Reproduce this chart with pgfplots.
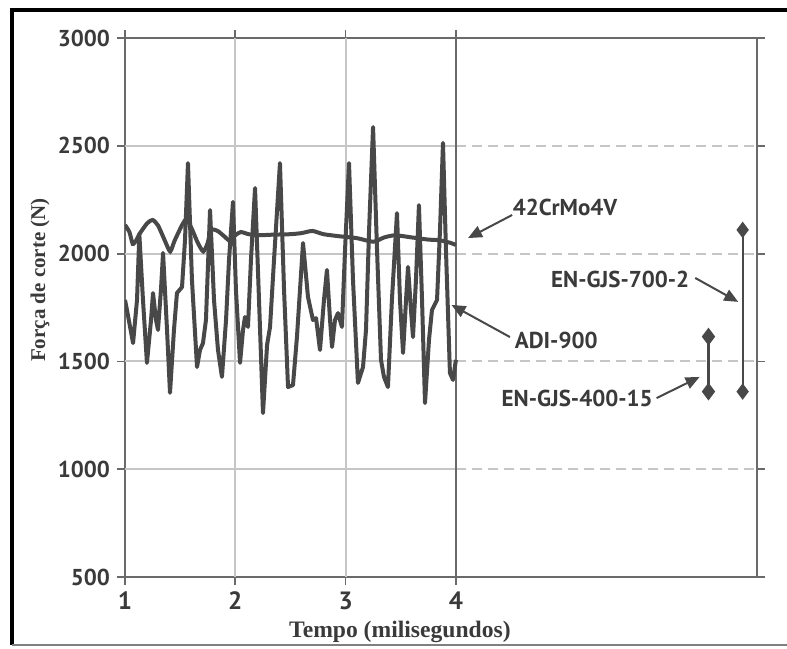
\documentclass[border=0pt]{standalone}
\usepackage{fontspec}
\setmainfont{PT Sans}
\newfontfamily\timesb{Liberation Serif}
\usepackage{pgfplots}
\pgfplotsset{compat=1.18}
\usetikzlibrary{arrows.meta}

\definecolor{linegray}{HTML}{484848}
\definecolor{gridgray}{HTML}{C6C6C6}
\definecolor{axgray}{HTML}{6A6A6A}
\definecolor{txtgray}{HTML}{3A3A3A}

\begin{document}
\begin{tikzpicture}
\begin{axis}[
  scale only axis, width=316pt, height=269.5pt,
  xmin=1, xmax=6.73, ymin=500, ymax=3000,
  xtick={1,2,3,4}, ytick={500,1000,...,3000},
  axis line style={draw=axgray, line width=1.1pt},
  tick style={draw=axgray, line width=0.9pt},
  tick align=outside, major tick length=4pt,
  /pgf/number format/assume math mode=true,
  /pgf/number format/1000 sep={},
  yticklabel style={font=\bfseries\fontsize{11.5}{13}\selectfont, text=txtgray},
  xticklabel style={font=\bfseries\fontsize{12.5}{14}\selectfont, text=txtgray},
  xlabel={Tempo (milisegundos)},
  xlabel style={font=\timesb\bfseries\fontsize{11.8}{13}\selectfont, text=txtgray,
    at={(rel axis cs:0.435,-0.102)}, anchor=center},
  ylabel={Força de corte (N)},
  ylabel style={font=\timesb\bfseries\fontsize{10.5}{12}\selectfont, text=txtgray,
    at={(rel axis cs:-0.1345,0.551)}, anchor=center},
]
% grid: solid up to 4 ms, dashed beyond
\pgfplotsinvokeforeach{1000,1500,2000,2500}{
  \addplot[gridgray, line width=1pt, forget plot] coordinates {(1,#1) (4,#1)};
  \addplot[gridgray, line width=1pt, dash pattern=on 5pt off 3pt, forget plot] coordinates {(4,#1) (6.7,#1)};
}
\addplot[gridgray, line width=1pt] coordinates {(2,500) (2,3000)};
\addplot[gridgray, line width=1pt] coordinates {(3,500) (3,3000)};
\addplot[axgray, line width=1.1pt] coordinates {(4,500) (4,3000)};

% ADI-900
\addplot[linegray, line width=2pt, line join=round] coordinates {
(1.000,1785) (1.018,1738) (1.073,1585) (1.109,1785) (1.130,2090) (1.163,1785)
(1.199,1493) (1.236,1692) (1.254,1817) (1.281,1692) (1.299,1646) (1.326,1831)
(1.345,2003) (1.381,1646) (1.408,1354) (1.444,1646) (1.471,1817) (1.517,1845)
(1.544,2063) (1.571,2420) (1.607,1878) (1.653,1474) (1.680,1553) (1.707,1585)
(1.734,1692) (1.771,2202) (1.807,1785) (1.843,1553) (1.879,1428) (1.916,1692)
(1.943,1970) (1.979,2240) (2.006,1831) (2.043,1493) (2.070,1646) (2.088,1706)
(2.115,1660) (2.142,1970) (2.179,2304) (2.215,1785) (2.251,1260) (2.288,1576)
(2.315,1660) (2.351,1970) (2.405,2420) (2.442,1831) (2.478,1381) (2.523,1390)
(2.559,1613) (2.614,2049) (2.659,1799) (2.704,1692) (2.732,1701) (2.768,1553)
(2.804,1785) (2.831,1924) (2.859,1692) (2.877,1567) (2.904,1692) (2.931,1724)
(2.967,1660) (2.995,2017) (3.031,2420) (3.067,1878) (3.112,1400) (3.158,1474)
(3.185,1646) (3.213,2110) (3.249,2587) (3.285,2017) (3.321,1507) (3.348,1428)
(3.384,1381) (3.420,1785) (3.466,2188) (3.493,1785) (3.521,1539) (3.548,1785)
(3.566,1938) (3.593,1738) (3.611,1613) (3.638,1878) (3.665,2225) (3.693,1785)
(3.720,1307) (3.756,1599) (3.783,1738) (3.829,1785) (3.856,2110) (3.883,2513)
(3.910,2017) (3.946,1446) (3.974,1414) (4.000,1507)
};

% 42CrMo4V
\addplot[linegray, line width=2pt, smooth, tension=0.4] coordinates {
(1.00,2133) (1.04,2100) (1.07,2045) (1.10,2060) (1.13,2090) (1.20,2140)
(1.25,2156) (1.30,2130) (1.37,2050) (1.41,2010) (1.45,2060) (1.52,2135)
(1.56,2160) (1.61,2110) (1.66,2050) (1.71,2010) (1.75,2050) (1.78,2110)
(1.84,2105) (1.90,2080) (1.95,2060) (2.00,2085) (2.05,2100) (2.12,2090)
(2.20,2085) (2.35,2088) (2.50,2090) (2.60,2095) (2.70,2105) (2.80,2090)
(2.95,2080) (3.10,2072) (3.25,2055) (3.35,2075) (3.45,2085) (3.60,2075)
(3.75,2065) (3.85,2062) (3.95,2050) (4.00,2040)
};

% ranges
\addplot[linegray, line width=1pt, mark=diamond*, mark size=3.3pt,
  mark options={solid, fill=linegray}] coordinates {(6.60,2110) (6.60,1360)};
\addplot[linegray, line width=1.4pt, mark=diamond*, mark size=3.3pt,
  mark options={solid, fill=linegray}] coordinates {(6.29,1615) (6.29,1360)};

% annotations
\node[font=\bfseries\fontsize{11.5}{13}\selectfont, text=txtgray] at (axis cs:4.99,2216) {42CrMo4V};
\draw[-{Triangle[length=7pt,width=6pt]}, line width=1pt, linegray]
  (axis cs:4.51,2179) -- (axis cs:4.11,2072);
\node[font=\bfseries\fontsize{11.5}{13}\selectfont, text=txtgray] at (axis cs:4.91,1595) {ADI-900};
\draw[-{Triangle[length=7pt,width=6pt]}, line width=1pt, linegray]
  (axis cs:4.49,1613) -- (axis cs:3.96,1762);
\node[font=\bfseries\fontsize{11.5}{13}\selectfont, text=txtgray] at (axis cs:5.49,1882) {EN-GJS-700-2};
\draw[-{Triangle[length=7pt,width=6pt]}, line width=1pt, linegray]
  (axis cs:6.17,1887) -- (axis cs:6.56,1776);
\node[font=\bfseries\fontsize{11.5}{13}\selectfont, text=txtgray] at (axis cs:5.10,1330) {EN-GJS-400-15};
\draw[-{Triangle[length=7pt,width=6pt]}, line width=1pt, linegray]
  (axis cs:5.82,1330) -- (axis cs:6.21,1428);
\end{axis}
% outer frame of the figure
\draw[black, line width=1.6pt] (-56.5pt,283.5pt) -- (331pt,283.5pt);
\draw[black, line width=1.6pt] (-56.5pt,284.3pt) -- (-56.5pt,-34pt);
\draw[black!50, line width=0.8pt] (-56.5pt,-34pt) -- (331pt,-34pt);
\pgfresetboundingbox
\path[use as bounding box] (-62.5pt,-35.5pt) rectangle (331pt,288.5pt);
\end{tikzpicture}
\end{document}
